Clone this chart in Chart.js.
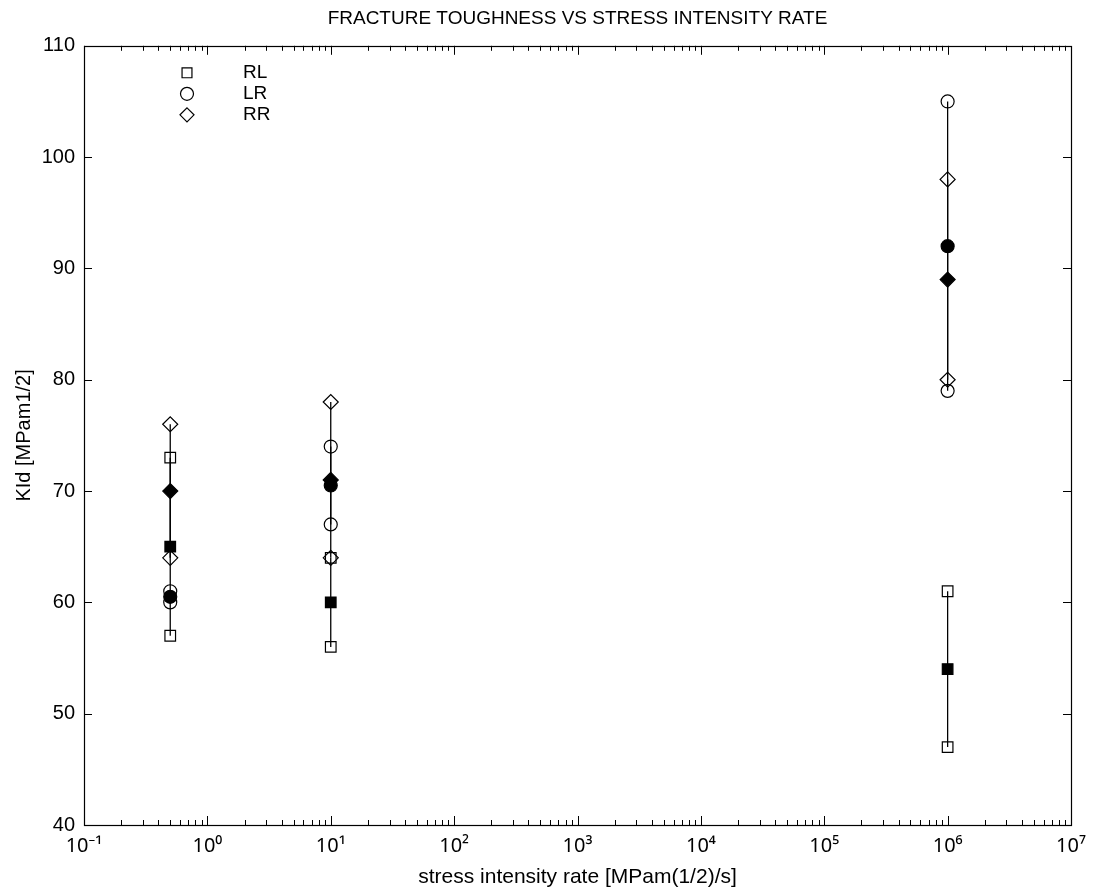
<!DOCTYPE html>
<html><head><meta charset="utf-8">
<script src="https://cdn.jsdelivr.net/npm/chart.js@4.4.1/dist/chart.umd.min.js"></script>
<style>html,body{margin:0;padding:0;background:#fff;}canvas{display:block;}</style>
</head><body>
<canvas id="c" width="1093" height="891"></canvas>
<script>
// ---- data ----
const rates = [0.5, 10, 1e6];                 // stress intensity rate [MPam(1/2)/s]
const seriesNames = ['RL', 'LR', 'RR'];
const rlValues = [[73, 57], [64, 56], [61, 47]];
const rlMeans  = [65, 60, 54];
const lrValues = [[61, 60], [74, 67], [105, 79]];
const lrMeans  = [60.5, 70.5, 92];
const rrValues = [[76, 64], [78, 64], [98, 80]];
const rrMeans  = [70, 71, 89];
const xTicks = [0.1, 1, 10, 100, 1e3, 1e4, 1e5, 1e6, 1e7];
const xTickLabels = ['10⁻¹', '10⁰', '10¹', '10²', '10³', '10⁴', '10⁵', '10⁶', '10⁷'];
const yTicks = [40, 50, 60, 70, 80, 90, 100, 110];

const FONT = "'Liberation Sans', Arial, Helvetica, sans-serif";
const SUPFONT = "'Noto Sans', 'DejaVu Sans', sans-serif";
const styles = {RL: {ps: 'rect', r: 7.5}, LR: {ps: 'circle', r: 6.5}, RR: {ps: 'rectRot', r: 7.5}};

function pointsOf(values) {
  const pts = [];
  values.forEach((vs, i) => vs.forEach(v => pts.push({x: rates[i], y: v})));
  return pts;
}
function meansOf(means) { return means.map((m, i) => ({x: rates[i], y: m})); }
function rangeLine(values, means) {
  const pts = [];
  values.forEach((vs, i) => {
    const all = vs.concat([means[i]]);
    pts.push({x: rates[i], y: Math.min(...all)});
    pts.push({x: rates[i], y: Math.max(...all)});
    pts.push({x: rates[i], y: null});
  });
  return pts;
}

const groups = [[rlValues, rlMeans], [lrValues, lrMeans], [rrValues, rrMeans]];
const datasets = [];
groups.forEach(([vals, means], k) => {
  datasets.push({label: seriesNames[k] + ' range', data: rangeLine(vals, means), showLine: true,
    borderColor: '#000', borderWidth: 1.3, pointRadius: 0, spanGaps: false, order: 10});
});
groups.forEach(([vals, means], k) => {
  const st = styles[seriesNames[k]];
  datasets.push({label: seriesNames[k], data: pointsOf(vals), showLine: false,
    pointStyle: st.ps, pointRadius: st.r, backgroundColor: 'rgba(0,0,0,0)',
    borderColor: '#000', pointBorderWidth: 1.2, order: 1});
  datasets.push({label: seriesNames[k] + ' mean', data: meansOf(means), showLine: false,
    pointStyle: st.ps, pointRadius: st.r, backgroundColor: '#000',
    borderColor: '#000', pointBorderWidth: 1.2, order: 0});
});

function drawSymbol(ctx, ps, r, x, y) {
  ctx.beginPath();
  if (ps === 'rect') { const s = r * Math.SQRT1_2; ctx.rect(x - s, y - s, 2 * s, 2 * s); }
  else if (ps === 'circle') { ctx.arc(x, y, r, 0, Math.PI * 2); }
  else { ctx.moveTo(x, y - r); ctx.lineTo(x + r, y); ctx.lineTo(x, y + r); ctx.lineTo(x - r, y); ctx.closePath(); }
  ctx.stroke();
}

const decor = {
  id: 'decor',
  afterDraw(chart) {
    const {ctx, chartArea: a, scales: {x, y}} = chart;
    ctx.save();
    ctx.strokeStyle = '#000';
    ctx.lineWidth = 1;
    ctx.beginPath();
    // log-axis ticks (major + minor) on bottom and top
    for (let e = -1; e < 7; e++) {
      for (let m = 1; m <= 9; m++) {
        const v = m * Math.pow(10, e);
        const px = Math.round(x.getPixelForValue(v)) + 0.5;
        const len = m === 1 ? 9 : 5;
        ctx.moveTo(px, a.bottom); ctx.lineTo(px, a.bottom - len);
        ctx.moveTo(px, a.top); ctx.lineTo(px, a.top + len);
      }
    }
    // y ticks on left and right
    yTicks.forEach(v => {
      const py = Math.round(y.getPixelForValue(v)) + 0.5;
      ctx.moveTo(a.left, py); ctx.lineTo(a.left + 8, py);
      ctx.moveTo(a.right, py); ctx.lineTo(a.right - 8, py);
    });
    ctx.stroke();
    // frame
    ctx.lineWidth = 1.2;
    ctx.strokeRect(Math.round(a.left) + 0.5, Math.round(a.top) + 0.5,
      Math.round(a.right - a.left), Math.round(a.bottom - a.top));
    // legend
    ctx.lineWidth = 1.2;
    ctx.fillStyle = '#000';
    ctx.font = '19px ' + FONT;
    ctx.textBaseline = 'middle';
    ctx.textAlign = 'left';
    seriesNames.forEach((n, i) => {
      const ly = a.top + 27 + i * 21;
      const st = styles[n];
      drawSymbol(ctx, st.ps, st.ps === 'circle' ? 6.5 : 7, a.left + 103, ly);
      ctx.fillText(n, a.left + 159, ly);
    });
    ctx.restore();
  }
};

new Chart(document.getElementById('c'), {
  type: 'scatter',
  data: {datasets},
  options: {
    responsive: false,
    animation: false,
    events: [],
    layout: {padding: {left: 0, right: 22, top: 0, bottom: 0}},
    plugins: {
      legend: {display: false},
      tooltip: {enabled: false},
      title: {display: true, fullSize: false, text: 'FRACTURE TOUGHNESS VS STRESS INTENSITY RATE',
        color: '#000', font: {family: FONT, size: 19, weight: 'normal'},
        padding: {top: 7, bottom: 16}}
    },
    scales: {
      x: {
        type: 'logarithmic', min: 0.1, max: 1e7,
        grid: {display: false, drawTicks: false},
        border: {display: false},
        afterBuildTicks: s => { s.ticks = xTicks.map(v => ({value: v, major: true})); },
        afterFit: s => { s.height = 66; s.paddingLeft = 0; s.paddingRight = 0; },
        ticks: {autoSkip: false, maxRotation: 0, padding: 9, color: '#000',
          font: {family: SUPFONT, size: 20},
          callback: (v, i) => xTickLabels[i]},
        title: {display: true, text: 'stress intensity rate [MPam(1/2)/s]', color: '#000',
          font: {family: FONT, size: 21}, padding: {top: 0, bottom: 1}}
      },
      y: {
        type: 'linear', min: 40, max: 110,
        grid: {display: false, drawTicks: false},
        border: {display: false},
        afterBuildTicks: s => { s.ticks = yTicks.map(v => ({value: v})); },
        afterFit: s => { s.width = 84; },
        ticks: {padding: 9, color: '#000', font: {family: FONT, size: 20}},
        title: {display: true, text: 'KId [MPam1/2]', color: '#000',
          font: {family: FONT, size: 20}, padding: {top: 12, bottom: 0}}
      }
    }
  },
  plugins: [decor]
});
</script>
</body></html>
